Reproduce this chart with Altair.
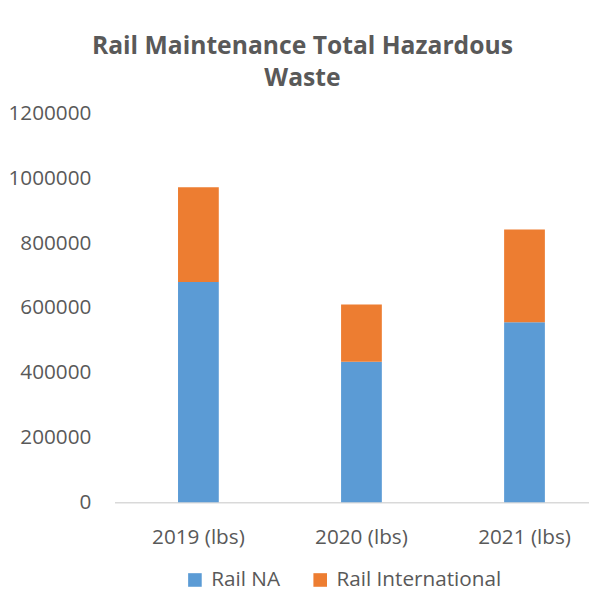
import altair as alt
import pandas as pd

years = ["2019 (lbs)", "2020 (lbs)", "2021 (lbs)"]
rail_na = [680000, 434000, 556000]
rail_intl = [293000, 177000, 286000]
series = ["Rail NA", "Rail International"]
colors = ["#5B9BD5", "#ED7D31"]
y_ticks = [0, 200000, 400000, 600000, 800000, 1000000, 1200000]

rows = []
for i, y in enumerate(years):
    rows.append({"year": y, "series": series[0], "value": rail_na[i], "ord": 0})
    rows.append({"year": y, "series": series[1], "value": rail_intl[i], "ord": 1})
df = pd.DataFrame(rows)

FONT = "Open Sans"
GREY = "#595959"

chart = alt.Chart(df).mark_bar(stroke=None).encode(
    x=alt.X("year:N", sort=years, title=None,
            scale=alt.Scale(paddingInner=0.75, paddingOuter=0.33, align=0.59),
            axis=alt.Axis(labelAngle=0, ticks=False, domain=True, domainColor="#D9D9D9",
                          domainWidth=1.5, labelFontSize=21, labelFont=FONT,
                          labelColor=GREY, labelPadding=25)),
    y=alt.Y("value:Q", stack="zero", title=None,
            scale=alt.Scale(domain=[0, 1200000], nice=False),
            axis=alt.Axis(values=y_ticks, format="d", grid=False, ticks=False, domain=False,
                          labelFontSize=21, labelFont=FONT, labelColor=GREY,
                          labelPadding=24)),
    color=alt.Color("series:N", scale=alt.Scale(domain=series, range=colors),
                    legend=alt.Legend(title=None, orient="none", direction="horizontal",
                                      legendX=71, legendY=462, symbolType="square",
                                      symbolSize=190, symbolStrokeWidth=0,
                                      labelFontSize=21, labelFont=FONT, labelColor=GREY,
                                      labelLimit=400,
                                      columnPadding=30, labelOffset=6, padding=0)),
    order=alt.Order("ord:Q"),
).properties(
    width=481,
    height=394,
    title=alt.TitleParams(
        text=["Rail Maintenance Total Hazardous", "Waste"],
        font=FONT, fontSize=25, fontWeight="bold", color=GREY,
        anchor="middle", frame="bounds", lineHeight=32, offset=12, dx=4,
    ),
    padding={"left": 108, "top": 103, "right": 0, "bottom": 100},
    autosize=alt.AutoSizeParams(type="none"),
).configure_view(stroke=None)

chart.save("out.html", embed_options={"renderer": "svg", "actions": False})
